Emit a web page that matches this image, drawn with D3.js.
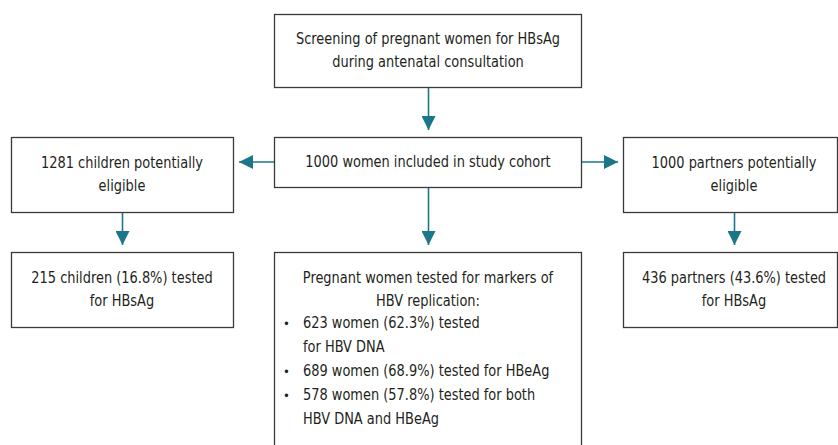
<!DOCTYPE html>
<html><head><meta charset="utf-8">
<script src="https://cdn.jsdelivr.net/npm/d3@7"></script>
<style>
body{margin:0;background:#fff;}
svg text{font-family:"DejaVu Sans Condensed","Liberation Sans Narrow",sans-serif;font-size:16px;fill:#231f20;}
</style></head>
<body><svg id="c" width="838" height="445"></svg>
<script>
// ---- data ----
const boxIds = ["screen","cohort","children","partners","childTest","womenTest","partnerTest"];
const boxTexts = [
  ["Screening of pregnant women for HBsAg","during antenatal consultation"],
  ["1000 women included in study cohort"],
  ["1281 children potentially","eligible"],
  ["1000 partners potentially","eligible"],
  ["215 children (16.8%) tested","for HBsAg"],
  ["Pregnant women tested for markers of","HBV replication:"],
  ["436 partners (43.6%) tested","for HBsAg"]
];
const bulletItems = [
  ["623 women (62.3%) tested","for HBV DNA"],
  ["689 women (68.9%) tested for HBeAg"],
  ["578 women (57.8%) tested for both","HBV DNA and HBeAg"]
];
const links = [["screen","cohort"],["cohort","children"],["cohort","partners"],["children","childTest"],["cohort","womenTest"],["partners","partnerTest"]];

// ---- layout ----
// [x, y, w, h, textCenterX]
const layout = {
  screen:[274,14,307,73,428], cohort:[274,137,307,50,428], children:[11,137,222,75,122],
  partners:[623,137,214,75,734], childTest:[11,252,222,75,122], womenTest:[274,252,307,200,428], partnerTest:[623,252,214,75,734]
};
const sx = 0.9;
const svg = d3.select("#c");
const teal = "#1b7689";
svg.append("defs").append("marker").attr("id","ah").attr("viewBox","0 0 10 10")
  .attr("refX",10).attr("refY",5).attr("markerWidth",15).attr("markerHeight",14)
  .attr("markerUnits","userSpaceOnUse").attr("orient","auto")
  .append("path").attr("d","M0,0L10,5L0,10Z").attr("fill",teal);

function txt(x,y,t,anchor){
  return svg.append("text").attr("transform",`translate(${x},${y}) scale(${sx},1)`)
    .attr("text-anchor",anchor||"start").attr("dominant-baseline","central").text(t);
}

const lh = 23;
boxIds.forEach((id,i)=>{
  const [x,y,w,h,tcx] = layout[id];
  svg.append("rect").attr("x",x+0.5).attr("y",y+0.5).attr("width",w).attr("height",h)
    .attr("fill","#fff").attr("stroke","#3a3a3a").attr("stroke-width",1.3);
  const lines = boxTexts[i];
  const n = lines.length;
  const cy = id==="womenTest" ? y+26 : y+h/2 - (n-1)*lh/2;
  lines.forEach((t,j)=> txt(tcx, cy+j*lh, t, "middle"));
  if(id==="womenTest"){
    let yy = y+26+2*lh-1;
    bulletItems.forEach(item=>{
      svg.append("text").attr("x",x+9).attr("y",yy).attr("dominant-baseline","central").text("•").style("font-size","13px");
      item.forEach((t,j)=> txt(x+29, yy+j*24, t));
      yy += item.length*24;
    });
  }
});

links.forEach(([a,b])=>{
  const A = layout[a], B = layout[b];
  let x1,y1,x2,y2;
  if(B[1] > A[1]+A[3]-1){ // downward
    x2 = B[4]+0.5; x1 = x2; y1 = A[1]+A[3]+1; y2 = B[1]-7;
  } else if(B[0] < A[0]){ // left
    y1 = y2 = A[1]+25; x1 = A[0]; x2 = B[0]+B[2]+6;
  } else { // right
    y1 = y2 = A[1]+25; x1 = A[0]+A[2]+1; x2 = B[0]-5;
  }
  svg.append("line").attr("x1",x1).attr("y1",y1).attr("x2",x2).attr("y2",y2)
    .attr("stroke",teal).attr("stroke-width",1.6).attr("marker-end","url(#ah)");
});
</script></body></html>
